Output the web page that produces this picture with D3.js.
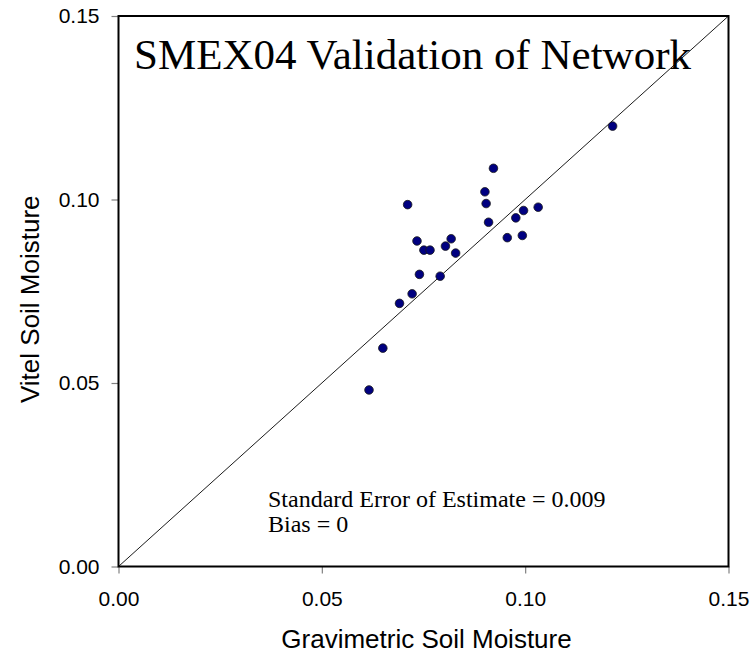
<!DOCTYPE html>
<html>
<head>
<meta charset="utf-8">
<script src="https://cdn.jsdelivr.net/npm/d3@7"></script>
<style>
  html, body { margin: 0; padding: 0; background: #fff; }
  svg { display: block; }
</style>
</head>
<body>
<svg id="chart" width="755" height="653"></svg>
<script>
// Gravimetric (x) vs Vitel probe (y) soil moisture, SMEX04 network sites
const gravimetric = [0.0922, 0.0901, 0.0904, 0.0711, 0.0910, 0.1032, 0.0996, 0.0977,
                     0.0734, 0.0818, 0.0804, 0.0751, 0.0766, 0.0829, 0.0956, 0.0993,
                     0.0740, 0.0791, 0.0722, 0.0691, 0.0650, 0.0616, 0.1215];
const vitel       = [0.1085, 0.1021, 0.0989, 0.0986, 0.0938, 0.0979, 0.0970, 0.0950,
                     0.0887, 0.0893, 0.0873, 0.0862, 0.0862, 0.0854, 0.0896, 0.0902,
                     0.0796, 0.0791, 0.0743, 0.0717, 0.0595, 0.0481, 0.1200];
const tickValues = [0.00, 0.05, 0.10, 0.15];
const domain = [0, 0.15];
const titleText = "SMEX04 Validation of Network";
const xTitle = "Gravimetric Soil Moisture";
const yTitle = "Vitel Soil Moisture";
const statLines = ["Standard Error of Estimate = 0.009", "Bias = 0"];

const svg = d3.select("#chart");
const plot = { left: 118.5, right: 728.5, top: 16, bottom: 566.5 };

const x = d3.scaleLinear().domain(domain).range([plot.left, plot.right]);
const y = d3.scaleLinear().domain(domain).range([plot.bottom, plot.top]);

const sans = "'Liberation Sans', Arial, sans-serif";
const serif = "'Liberation Serif', 'Times New Roman', serif";
const fmt = d3.format(".2f");

// Axes with outward ticks
const xAxis = svg.append("g")
  .attr("transform", `translate(0,${plot.bottom})`)
  .call(d3.axisBottom(x).tickValues(tickValues).tickFormat(fmt).tickSize(7).tickPadding(18));
const yAxis = svg.append("g")
  .attr("transform", `translate(${plot.left},0)`)
  .call(d3.axisLeft(y).tickValues(tickValues).tickFormat(fmt).tickSize(7).tickPadding(12));

[xAxis, yAxis].forEach(g => {
  g.select(".domain").remove();
  g.selectAll(".tick line").attr("stroke", "#808080").attr("stroke-width", 1.2);
  g.selectAll(".tick text")
    .attr("fill", "#000")
    .style("font-family", sans)
    .style("font-size", "21px");
});

// 1:1 reference line
svg.append("line")
  .attr("x1", x(domain[0])).attr("y1", y(domain[0]))
  .attr("x2", x(domain[1])).attr("y2", y(domain[1]))
  .attr("stroke", "#000").attr("stroke-width", 0.9);

// Plot frame
svg.append("rect")
  .attr("x", plot.left).attr("y", plot.top)
  .attr("width", plot.right - plot.left).attr("height", plot.bottom - plot.top)
  .attr("fill", "none").attr("stroke", "#000").attr("stroke-width", 2);

// Observations
svg.append("g").selectAll("circle")
  .data(gravimetric.map((g, i) => [g, vitel[i]]))
  .join("circle")
  .attr("cx", d => x(d[0]))
  .attr("cy", d => y(d[1]))
  .attr("r", 4.3)
  .attr("fill", "#000080")
  .attr("stroke", "#1a1a1a")
  .attr("stroke-width", 0.8);

// Chart title inside the plot
svg.append("text")
  .attr("x", 134).attr("y", 69)
  .style("font-family", serif).style("font-size", "43px")
  .text(titleText);

// Statistics annotation
svg.append("text")
  .attr("x", 268).attr("y", 507)
  .style("font-family", serif).style("font-size", "24px")
  .selectAll("tspan")
  .data(statLines)
  .join("tspan")
  .attr("x", 268)
  .attr("dy", (d, i) => i === 0 ? 0 : 25)
  .text(d => d);

// Axis titles
svg.append("text")
  .attr("x", (plot.left + plot.right) / 2 + 3).attr("y", 648)
  .attr("text-anchor", "middle")
  .style("font-family", sans).style("font-size", "26px")
  .text(xTitle);

svg.append("text")
  .attr("transform", `translate(39,${(plot.top + plot.bottom) / 2 + 8}) rotate(-90)`)
  .attr("text-anchor", "middle")
  .style("font-family", sans).style("font-size", "26px")
  .text(yTitle);
</script>
</body>
</html>
